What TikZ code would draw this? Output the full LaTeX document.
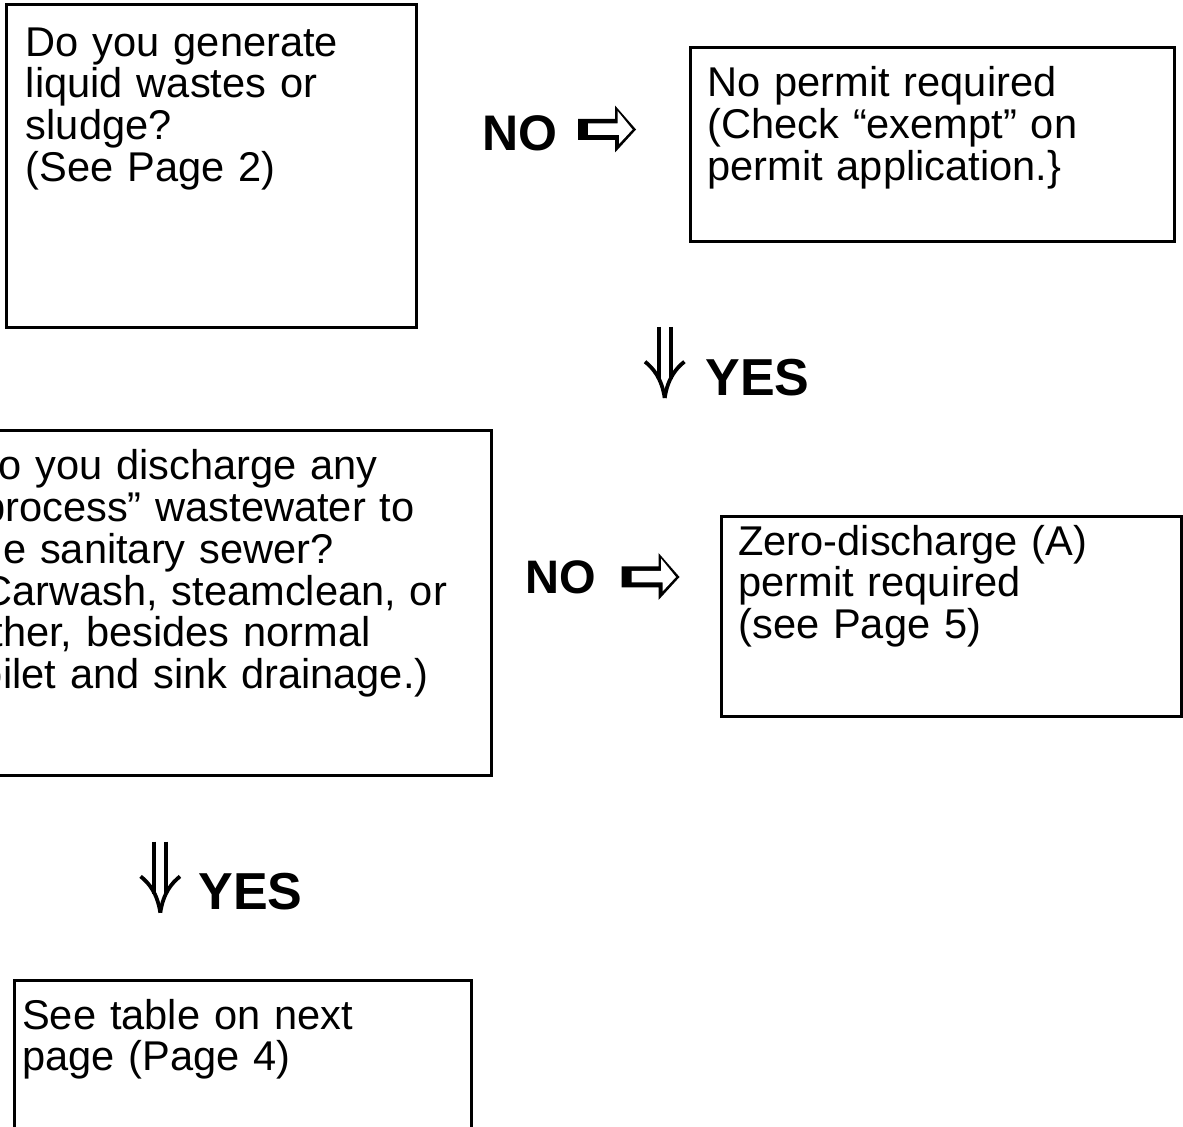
\documentclass[tikz,border=0pt]{standalone}
\usepackage{fontspec}
\setmainfont{Liberation Sans}
\usetikzlibrary{positioning}
\usetikzlibrary{calc}

% hollow right arrow after each NO
\newcommand{\noarrow}[1]{%
	\begin{scope}[shift={(#1)}]
		\fill (0,-10.5) -- (37,-10.5) -- (37,-24) -- (58,0) -- (37,23) -- (37,10.5) -- (0,10.5) -- cycle;
		\fill[white] (10,-6) -- (39.5,-6) -- (39.5,-18.5) -- (54.5,0) -- (41,14.5) -- (41,5.5) -- (10,5.5) -- cycle;
	\end{scope}}
% double down arrow before each YES
\newcommand{\yesarrow}[1]{%
	\begin{scope}[shift={(#1)}, line width=1.9pt]
		\draw (-6,0) -- (-6,52);
		\draw (6,0) -- (6,52);
		\draw (-19.7,34.7) .. controls (-11.4,41.3) and (-3,51.3) .. (0,71);
		\draw (19.7,34.7) .. controls (11.4,41.3) and (3,51.3) .. (0,71);
	\end{scope}}

\begin{document}
\begin{tikzpicture}[x=0.5pt,y=-0.5pt]

\tikzset{box/.style={
		draw,
		line width=1.5pt,
		anchor=north west,
		inner sep=0pt,
		outer sep=0pt
	},
	boxtext/.style={
		anchor=base west,
		inner sep=0pt,
		align=left,
		text width=#1,
		font=\fontsize{20.8}{20.85}\selectfont
	},
	boxtext/.default=240pt,
	answer/.style={
		anchor=base west,
		inner sep=0pt,
		font=\fontsize{#1}{#1}\selectfont\bfseries
	}
}

\useasboundingbox (0,0) rectangle (1183,1127);
\clip (0,0) rectangle (1183,1127);

% boxes
\node[box, minimum width=205.1pt, minimum height=161.5pt] (liquid) at (6.5,4.3) {};
\node[box, minimum width=242.2pt, minimum height=96.9pt] (exempt) at (690,48) {};
\node[box, minimum width=270pt, minimum height=172pt] (process) at (-49,431) {};
\node[box, minimum width=230pt, minimum height=99.7pt] (zero) at (721,516.7) {};
\node[box, minimum width=228.7pt, minimum height=100pt] (table) at (14.3,980) {};

\node[boxtext] (liquidtext) at ($(liquid.north west)+(19,52)$)
	{Do you generate\\ liquid wastes or\\ sludge?\\ (See Page 2)};
\node[boxtext] (exempttext) at ($(exempt.north west)+(17,49)$)
	{No permit required\\ (Check “exempt” on\\ permit application.\}};
\node[boxtext=270pt] (processtext) at ($(process.north west)+(17,49)$)
	{Do you discharge any\\ “process” wastewater to\\ the sanitary sewer?\\ (Carwash, steamclean, or\\ other, besides normal\\ toilet and sink drainage.)};
\node[boxtext] (zerotext) at ($(zero.north west)+(17,38.5)$)
	{Zero-discharge (A)\\ permit required\\ (see Page 5)};
\node[boxtext] (tabletext) at ($(table.north west)+(7.5,49)$)
	{See table on next\\ page (Page 4)};

% answers
\node[answer=25] (no1) at (482,151) {NO};
\node[answer=23.5] (no2) at (525,594) {NO};
\node[answer=26] (yes1) at (705,396) {YES};
\node[answer=26] (yes2) at (198,909) {YES};

\coordinate (no1arrow) at (578,129.5);
\coordinate (no2arrow) at (621.5,577);
\coordinate (yes1arrow) at (664.7,327);
\coordinate (yes2arrow) at (160.3,841.7);

\noarrow{no1arrow}
\noarrow{no2arrow}
\yesarrow{yes1arrow}
\yesarrow{yes2arrow}

\end{tikzpicture}
\end{document}
